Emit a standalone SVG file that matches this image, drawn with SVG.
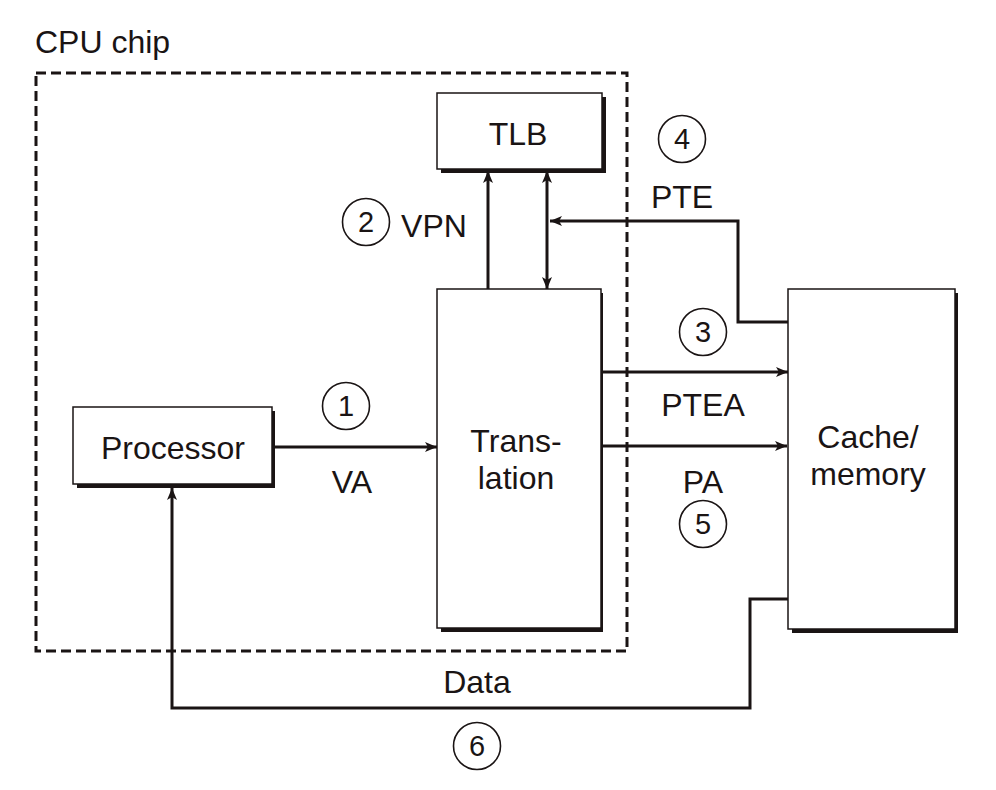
<svg xmlns="http://www.w3.org/2000/svg" width="996" height="790" viewBox="0 0 996 790">
<style>
text{font-family:"Liberation Sans",Arial,sans-serif;font-size:32px;fill:#1a1414;text-anchor:middle}
.num{font-size:29px}
.box{fill:#fff;stroke:#1a1414;stroke-width:1.5}
.shadow{fill:#1a1414}
.conn{fill:none;stroke:#1a1414;stroke-width:3}
.circ{fill:none;stroke:#1a1414;stroke-width:1.6}
.chip{fill:none;stroke:#1a1414;stroke-width:3;stroke-dasharray:10,5}
</style>
<defs>
<marker id="ah" viewBox="0 0 12 10" refX="12" refY="5" markerWidth="12" markerHeight="10" markerUnits="userSpaceOnUse" orient="auto-start-reverse">
<path d="M0,0 L12,5 L0,10 L3,5 z" fill="#1a1414"/>
</marker>
</defs>
<rect width="996" height="790" fill="#fff"/>
<g id="cpu-chip">
<rect class="chip" x="36" y="73" width="591" height="578"/>
<text x="35" y="53" style="text-anchor:start">CPU chip</text>
</g>
<g id="connectors">
<line class="conn" x1="275" y1="447" x2="437" y2="447" marker-end="url(#ah)"/>
<line class="conn" x1="488" y1="290" x2="488" y2="171" marker-end="url(#ah)"/>
<line class="conn" x1="547" y1="171" x2="547" y2="289" marker-start="url(#ah)" marker-end="url(#ah)"/>
<polyline class="conn" points="788,322 738,322 738,221 550,221" marker-end="url(#ah)"/>
<line class="conn" x1="600" y1="372" x2="788" y2="372" marker-end="url(#ah)"/>
<line class="conn" x1="600" y1="446" x2="787" y2="446" marker-end="url(#ah)"/>
<polyline class="conn" points="788,599 750,599 750,708 172,708 172,488" marker-end="url(#ah)"/>
</g>
<g id="tlb">
<rect class="shadow" x="441" y="97" width="165" height="76"/>
<rect class="box" x="437" y="93" width="165" height="76"/>
<text x="518" y="145">TLB</text>
</g>
<g id="processor">
<rect class="shadow" x="77" y="411" width="198" height="77"/>
<rect class="box" x="73" y="407" width="199" height="77"/>
<text x="173" y="459">Processor</text>
</g>
<g id="translation">
<rect class="shadow" x="441" y="293" width="162" height="339"/>
<rect class="box" x="437" y="289" width="164" height="339"/>
<text x="516" y="452">Trans-</text>
<text x="516" y="489">lation</text>
</g>
<g id="cache">
<rect class="shadow" x="792" y="293" width="166" height="340"/>
<rect class="box" x="788" y="289" width="167" height="340"/>
<text x="868" y="448">Cache/</text>
<text x="868" y="485">memory</text>
</g>
<g id="labels">
<text x="434" y="237">VPN</text>
<text x="682" y="208">PTE</text>
<text x="703" y="416">PTEA</text>
<text x="703" y="493">PA</text>
<text x="352" y="493">VA</text>
<text x="477" y="693">Data</text>
</g>
<g id="steps">
<circle class="circ" cx="346" cy="406" r="23.5"/><text class="num" x="346" y="416">1</text>
<circle class="circ" cx="366" cy="222" r="23.5"/><text class="num" x="366" y="232">2</text>
<circle class="circ" cx="703" cy="332" r="23.5"/><text class="num" x="703" y="342">3</text>
<circle class="circ" cx="682" cy="139" r="23.5"/><text class="num" x="682" y="149">4</text>
<circle class="circ" cx="703" cy="524" r="23.5"/><text class="num" x="703" y="534">5</text>
<circle class="circ" cx="477" cy="746" r="23.5"/><text class="num" x="477" y="756">6</text>
</g>
</svg>
